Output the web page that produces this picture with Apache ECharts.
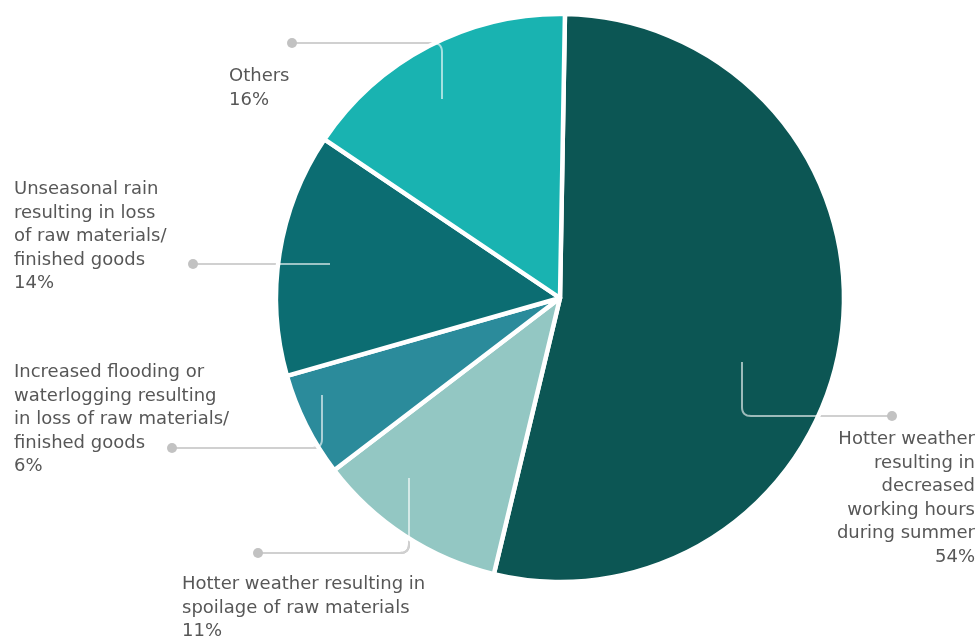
<!DOCTYPE html>
<html>
<head>
<meta charset="utf-8">
<script src="https://cdn.jsdelivr.net/npm/echarts@6/dist/echarts.min.js"></script>
<style>
  html, body { margin: 0; padding: 0; background: #ffffff; }
  #chart { width: 980px; height: 637px; }
</style>
</head>
<body>
<div id="chart"></div>
<script>
// Climate impacts reported, share of responses (%)
const categories = [
  'Hotter weather\nresulting in\ndecreased\nworking hours\nduring summer',
  'Hotter weather resulting in\nspoilage of raw materials',
  'Increased flooding or\nwaterlogging resulting\nin loss of raw materials/\nfinished goods',
  'Unseasonal rain\nresulting in loss\nof raw materials/\nfinished goods',
  'Others'
];
const shares = [54, 11, 6, 14, 16];
const sliceColors = ['#0c5654', '#93c7c3', '#2b8b9b', '#0c6d72', '#19b3b1'];

// Label anchor (top of first line) and alignment for each slice
const labelPlacement = [
  { x: 975, y: 428, align: 'right' },
  { x: 182, y: 573, align: 'left' },
  { x: 14, y: 361, align: 'left' },
  { x: 14, y: 178, align: 'left' },
  { x: 229, y: 65, align: 'left' }
];

// Leader callouts: start inside the slice, optional elbow, dot next to the label
const leaders = [
  { pts: [[742, 362], [742, 416], [892, 416]] },
  { pts: [[409, 478], [409, 553], [258, 553]] },
  { pts: [[322, 395], [322, 448], [172, 448]] },
  { pts: [[330, 264], [193, 264]] },
  { pts: [[442, 99], [442, 43], [292, 43]] }
];
const cornerRadius = 9;

// Expand an elbow polyline into points with a rounded corner
function roundedPoints(pts) {
  if (pts.length < 3) return pts.slice();
  const out = [pts[0]];
  for (let i = 1; i < pts.length - 1; i++) {
    const p0 = pts[i - 1], p1 = pts[i], p2 = pts[i + 1];
    const d1 = Math.hypot(p1[0] - p0[0], p1[1] - p0[1]);
    const d2 = Math.hypot(p2[0] - p1[0], p2[1] - p1[1]);
    const a = [p1[0] + (p0[0] - p1[0]) * cornerRadius / d1, p1[1] + (p0[1] - p1[1]) * cornerRadius / d1];
    const b = [p1[0] + (p2[0] - p1[0]) * cornerRadius / d2, p1[1] + (p2[1] - p1[1]) * cornerRadius / d2];
    for (let k = 0; k <= 8; k++) {
      const t = k / 8, u = 1 - t;
      out.push([u * u * a[0] + 2 * u * t * p1[0] + t * t * b[0],
                u * u * a[1] + 2 * u * t * p1[1] + t * t * b[1]]);
    }
  }
  out.push(pts[pts.length - 1]);
  return out;
}

const chart = echarts.init(document.getElementById('chart'), null, { renderer: 'canvas' });

const graphics = [];
leaders.forEach(function (l) {
  const pts = roundedPoints(l.pts);
  const dot = l.pts[l.pts.length - 1];
  // grey stroke beneath the pie (shows only outside the slices)
  graphics.push({ type: 'polyline', z: -10, silent: true,
    shape: { points: pts }, style: { fill: null, stroke: '#8a8a8a', lineWidth: 2 } });
  // pale stroke above everything
  graphics.push({ type: 'polyline', z: 50, silent: true,
    shape: { points: pts }, style: { fill: null, stroke: 'rgba(255,255,255,0.6)', lineWidth: 2 } });
  graphics.push({ type: 'circle', z: 51, silent: true,
    shape: { cx: dot[0], cy: dot[1], r: 5 }, style: { fill: '#c2c2c2' } });
});

chart.setOption({
  backgroundColor: '#ffffff',
  animation: false,
  graphic: { elements: graphics },
  series: [{
    type: 'pie',
    z: 2,
    center: [560, 298],
    radius: [0, 284],
    startAngle: 89,
    clockwise: true,
    avoidLabelOverlap: false,
    itemStyle: { borderColor: '#ffffff', borderWidth: 4.5 },
    label: {
      show: true,
      position: 'outside',
      formatter: function (p) { return p.name + '\n' + p.value + '%'; },
      fontFamily: 'DejaVu Sans',
      fontSize: 18,
      lineHeight: 23.5,
      color: '#575757'
    },
    labelLine: { show: false },
    labelLayout: function (p) {
      const L = labelPlacement[p.dataIndex];
      return { x: L.x, y: L.y, align: L.align, verticalAlign: 'top' };
    },
    emphasis: { disabled: true },
    data: categories.map(function (c, i) {
      return { name: c, value: shares[i], itemStyle: { color: sliceColors[i] } };
    })
  }]
});
</script>
</body>
</html>
